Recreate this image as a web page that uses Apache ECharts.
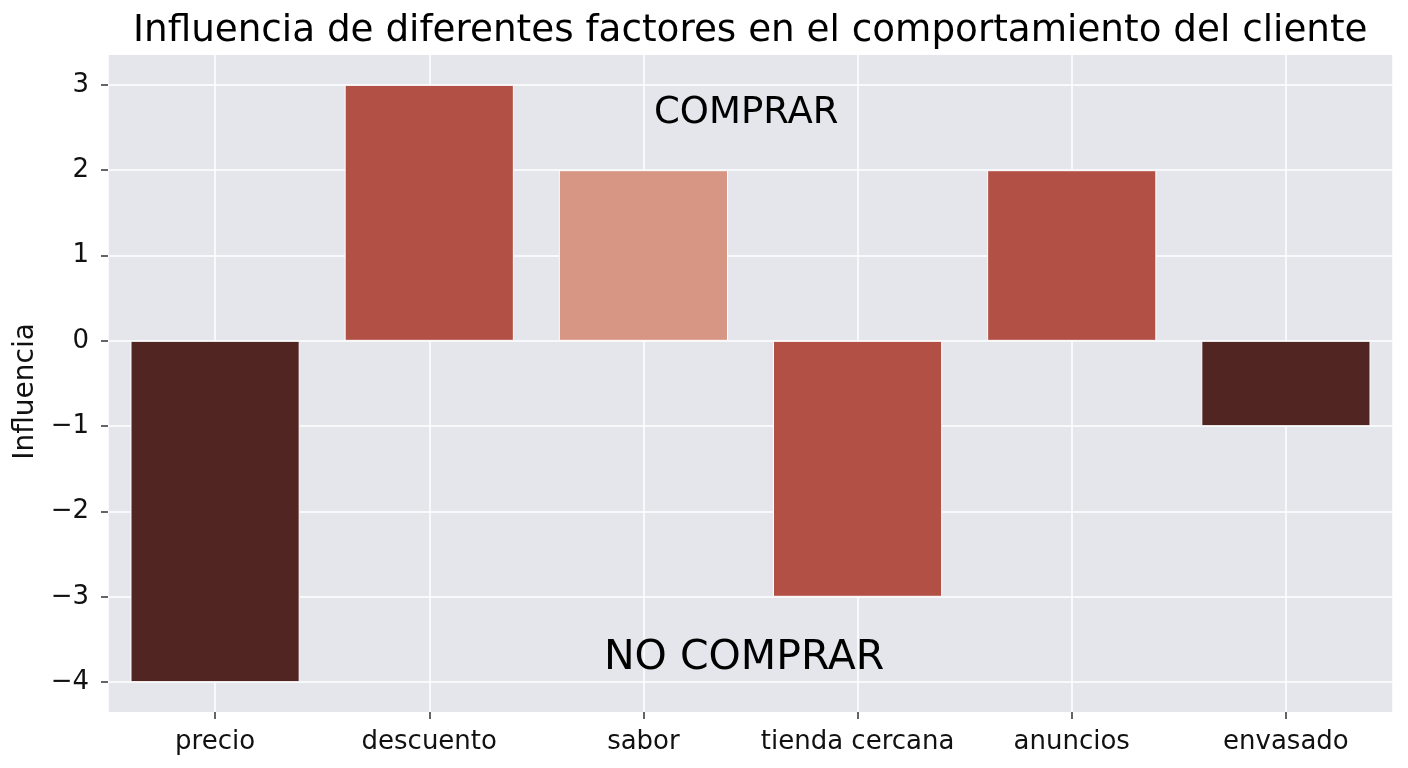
<!DOCTYPE html>
<html>
<head>
<meta charset="utf-8">
<script src="https://cdn.jsdelivr.net/npm/echarts@6/dist/echarts.min.js"></script>
<style>html,body{margin:0;padding:0;background:#fff;}#c{width:1408px;height:768px;}</style>
</head>
<body>
<div id="c"></div>
<script>
const categories = ['precio', 'descuento', 'sabor', 'tienda cercana', 'anuncios', 'envasado'];
const influence = [-4, 3, 2, -3, 2, -1];
const barColors = ['#512522', '#B35045', '#D79583', '#B35045', '#B35045', '#512522'];
const yTicks = [-4, -3, -2, -1, 0, 1, 2, 3];
const annotations = [
  { text: 'COMPRAR', x: 2.48, y: 2.67, size: 37 },
  { text: 'NO COMPRAR', x: 2.47, y: -3.72, size: 41 }
];
const titleText = 'Influencia de diferentes factores en el comportamiento del cliente';
const yName = 'Influencia';

const FONT = 'DejaVu Sans';
const chart = echarts.init(document.getElementById('c'), null, { renderer: 'canvas' });
const fmt = v => (Math.abs(v - Math.round(v)) > 1e-9 ? '' : (v < 0 ? '\u2212' + Math.abs(v) : String(v)));

chart.setOption({
  animation: false,
  backgroundColor: '#ffffff',
  title: {
    text: titleText, left: 128, top: 8,
    textStyle: { fontFamily: FONT, fontSize: 37.3, fontWeight: 'normal', color: '#000' }
  },
  grid: { left: 108, right: 15, top: 55, bottom: 56, show: true, backgroundColor: '#E4E6EC', borderWidth: 0 },
  xAxis: [
    {
      type: 'category', data: categories, boundaryGap: true,
      axisLine: { show: false, onZero: false },
      axisTick: { show: true, alignWithLabel: true, length: 7, lineStyle: { color: '#333', width: 1.5 } },
      axisLabel: { fontFamily: FONT, fontSize: 26, color: '#111', margin: 17, interval: 0 },
      splitLine: { show: false }
    },
    {
      type: 'value', min: -0.5, max: 5.5, position: 'bottom',
      axisLine: { show: false, onZero: false }, axisTick: { show: false }, axisLabel: { show: false },
      splitLine: { show: true, lineStyle: { color: '#ffffff', width: 1.5 } }
    }
  ],
  yAxis: {
    type: 'value', min: -4.35, max: 3.35,
    name: yName, nameLocation: 'middle', nameGap: 65,
    nameTextStyle: { fontFamily: FONT, fontSize: 28, color: '#111', padding: [0, 16, 0, 0] },
    axisLine: { show: false, onZero: false },
    axisTick: { show: true, length: 7, customValues: yTicks, lineStyle: { color: '#333', width: 1.5 } },
    axisLabel: { fontFamily: FONT, fontSize: 26, color: '#111', margin: 19, customValues: yTicks, formatter: fmt },
    splitLine: { show: true, lineStyle: { color: '#ffffff', width: 1.5 } }
  },
  series: [
    {
      type: 'bar', xAxisIndex: 0, yAxisIndex: 0, barWidth: '79%',
      data: influence.map((v, i) => ({ value: v, itemStyle: { color: barColors[i] } })),
      itemStyle: { borderColor: '#ffffff', borderWidth: 1 },
      z: 3
    },
    {
      type: 'scatter', xAxisIndex: 1, yAxisIndex: 0, symbolSize: 0, silent: true, z: 5,
      itemStyle: { opacity: 1 },
      data: annotations.map(a => ({
        value: [a.x, a.y],
        label: { show: true, position: 'inside', formatter: a.text, fontFamily: FONT, fontSize: a.size, color: '#000', opacity: 1, textBorderWidth: 0 }
      }))
    }
  ]
});
</script>
</body>
</html>
